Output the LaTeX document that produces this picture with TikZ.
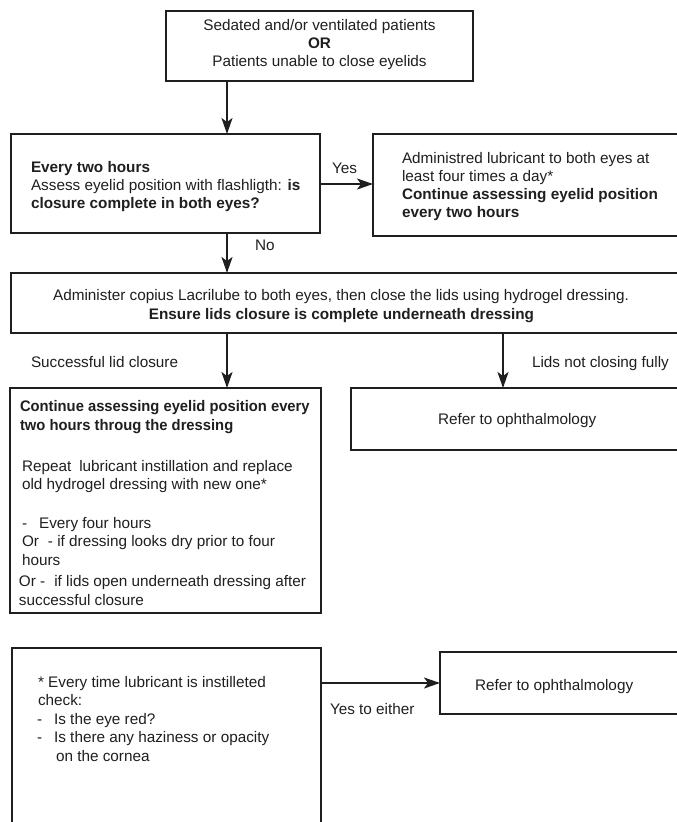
\documentclass[tikz,border=0pt]{standalone}
\usepackage{fontspec}
\setmainfont{Liberation Sans}
\usetikzlibrary{arrows.meta}
\begin{document}
\begin{tikzpicture}[x=1pt,y=-1pt,
  box/.style={draw=black!88, line width=1.9pt, inner sep=0pt, outer sep=0pt, anchor=north west},
  txt/.style={inner sep=0pt, outer sep=0pt, font=\fontsize{15.3}{18.5}\selectfont, text=black!88, anchor=base west},
  ctxt/.style={txt, anchor=base},
  arr/.style={draw=black!88, line width=1.8pt, -{Stealth[length=16pt,width=11pt,inset=4pt]}}]
\clip (0,0) rectangle (677,822);
\fill[white] (0,0) rectangle (677,822);
% boxes
\node[box, minimum width=307pt, minimum height=70pt] (b1) at (166,11) {};
\node[box, minimum width=309pt, minimum height=99pt] (b2) at (11,134) {};
\node[box, minimum width=340pt, minimum height=102pt] (b3) at (373,134) {};
\node[box, minimum width=700pt, minimum height=60pt] (b4) at (11,273) {};
\node[box, minimum width=311pt, minimum height=225pt] (b5) at (10,388) {};
\node[box, minimum width=360pt, minimum height=62pt] (b6) at (351,388) {};
\node[box, minimum width=309pt, minimum height=260pt] (b7) at (12,648) {};
\node[box, minimum width=270pt, minimum height=62pt] (b8) at (440,652) {};
% guide coordinates for connectors
\coordinate (xa) at (227,0);
\coordinate (xb) at (503,0);
\coordinate (ya) at (0,184);
\coordinate (yb) at (0,683);
% connectors
\draw[arr] (b1.south -| xa) -- (b2.north -| xa);
\draw[arr] (b2.east |- ya) -- (b3.west |- ya);
\draw[arr] (b2.south -| xa) -- (b4.north -| xa);
\draw[arr] (b4.south -| xa) -- (b5.north -| xa);
\draw[arr] (b4.south -| xb) -- (b6.north -| xb);
\draw[arr] (b7.east |- yb) -- (b8.west |- yb);
% box 1
\node[ctxt] (t1a) at (319.5,30) {Sedated and/or ventilated patients};
\node[ctxt] (t1b) at (319.5,48) {\textbf{OR}};
\node[ctxt] (t1c) at (319.5,66) {Patients unable to close eyelids};
% box 2
\node[txt] (t2a) at (31,172) {\textbf{Every two hours}};
\node[txt] (t2b) at (31,190) {Assess eyelid position with flashligth: \textbf{is}};
\node[txt] (t2c) at (31,208) {\textbf{closure complete in both eyes?}};
% labels
\node[txt] (lyes) at (332,173) {Yes};
\node[txt] (lno) at (255,250) {No};
% box 3
\node[txt] (t3a) at (402,163) {Administred lubricant to both eyes at};
\node[txt] (t3b) at (402,181) {least four times a day*};
\node[txt] (t3c) at (402,199) {\textbf{Continue assessing eyelid position}};
\node[txt] (t3d) at (402,217) {\textbf{every two hours}};
% box 4
\node[ctxt] (t4a) at (341,300) {Administer copius Lacrilube to both eyes, then close the lids using hydrogel dressing.};
\node[ctxt] (t4b) at (341.5,319) {\textbf{Ensure lids closure is complete underneath dressing}};
% labels
\node[txt] (lsucc) at (31,367) {Successful lid closure};
\node[txt] (lnot) at (532,367) {Lids not closing fully};
% box 5
\node[txt, xscale=0.965] (t5a) at (20,411) {\textbf{Continue assessing eyelid position every}};
\node[txt, xscale=0.965] (t5b) at (20,430) {\textbf{two hours throug the dressing}};
\node[txt] (t5c) at (22,471) {Repeat\hspace{8pt}lubricant instillation and replace};
\node[txt] (t5d) at (22,489) {old hydrogel dressing with new one*};
\node[txt] (t5e) at (22,528) {-\hspace{12pt}Every four hours};
\node[txt] (t5f) at (22,546) {Or\hspace{9pt}- if dressing looks dry prior to four};
\node[txt] (t5g) at (22,565) {hours};
\node[txt] (t5h) at (19,586) {Or -\hspace{9pt}if lids open underneath dressing after};
\node[txt] (t5i) at (19,605) {successful closure};
% box 6
\node[txt] (t6) at (438,424) {Refer to ophthalmology};
% box 7
\node[txt] (t7a) at (38,687) {* Every time lubricant is instilleted};
\node[txt] (t7b) at (38,705.5) {check:};
\node[txt] (t7c) at (37,724) {-\hspace{12pt}Is the eye red?};
\node[txt] (t7d) at (37,742.5) {-\hspace{12pt}Is there any haziness or opacity};
\node[txt] (t7e) at (56,761) {on the cornea};
% label and box 8
\node[txt] (lyte) at (330,714) {Yes to either};
\node[txt] (t8) at (475,690) {Refer to ophthalmology};
\end{tikzpicture}
\end{document}
